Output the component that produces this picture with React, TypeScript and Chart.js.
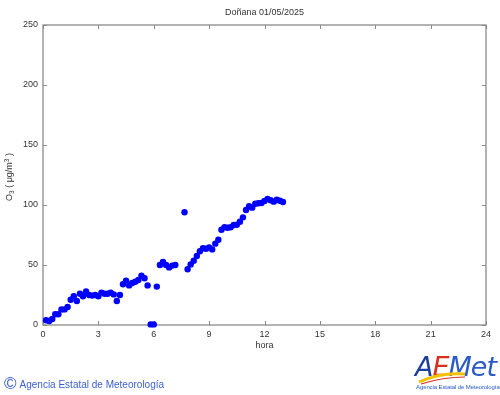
import React, { useEffect, useRef } from "react";
import { Chart, registerables } from "chart.js";

Chart.register(...registerables);

const TITLE = "Doñana 01/05/2025";
const X_TITLE = "hora";
const X_TICKS = [0, 3, 6, 9, 12, 15, 18, 21, 24];
const Y_TICKS = [0, 50, 100, 150, 200, 250];

const TIMES = [
  "00:10", "00:20", "00:30", "00:40", "00:50", "01:00",
  "01:10", "01:20", "01:30", "01:40", "01:50", "02:00",
  "02:10", "02:20", "02:30", "02:40", "02:50", "03:00",
  "03:10", "03:20", "03:30", "03:40", "03:50", "04:00",
  "04:10", "04:20", "04:30", "04:40", "04:50", "05:00",
  "05:10", "05:20", "05:30", "05:40", "05:50", "06:00",
  "06:10", "06:20", "06:30", "06:40", "06:50", "07:00",
  "07:10", "07:20", "07:30", "07:40", "07:50", "08:00",
  "08:10", "08:20", "08:30", "08:40", "08:50", "09:00",
  "09:10", "09:20", "09:30", "09:40", "09:50", "10:00",
  "10:10", "10:20", "10:30", "10:40", "10:50", "11:00",
  "11:10", "11:20", "11:30", "11:40", "11:50", "12:00",
  "12:10", "12:20", "12:30", "12:40", "12:50", "13:00",
];

const O3: (number | null)[] = [
  4, 3.3, 5, 9, 9, 13,
  13, 15, 21, 24, 20, 26,
  24, 28, 25, 24.5, 25, 24,
  27, 26, 26, 27, 25.5, 20,
  25, 34, 37, 33, 35, 36,
  37.5, 41, 39, 33, 0.5, 0.5,
  32, 50, 52.5, 50, 48, 49.5,
  50, null, null, 94, 46.4, 50.5,
  53.6, 57.5, 61.4, 64, 63.6, 64.7,
  63, 67.8, 71, 79.4, 81.4, 81,
  81.4, 83.3, 83.6, 86, 89.7, 95.8,
  98.9, 97.8, 101, 101.4, 101.7, 103.3,
  105, 104, 102.8, 104.4, 103.6, 102.5,
];

const FONT = "'Liberation Sans', Arial, Helvetica, sans-serif";
const AXIS_COLOR = "#8a8a8a";
const TEXT_COLOR = "#333333";

const toHours = (t: string) => {
  const [h, m] = t.split(":").map(Number);
  return h + m / 60;
};

const framePlugin = {
  id: "frame",
  beforeDatasetsDraw(chart: any) {
    const { ctx, chartArea } = chart;
    const { left, right, top, bottom } = chartArea;
    const xs = chart.scales.x;
    const ys = chart.scales.y;
    ctx.save();
    ctx.strokeStyle = AXIS_COLOR;
    ctx.lineWidth = 1.3;
    ctx.strokeRect(left, top, right - left, bottom - top);
    ctx.lineWidth = 1;
    const tl = 4;
    ctx.beginPath();
    xs.ticks.forEach((t: any) => {
      const px = Math.round(xs.getPixelForValue(t.value)) + 0.5;
      ctx.moveTo(px, bottom);
      ctx.lineTo(px, bottom - tl);
      ctx.moveTo(px, top);
      ctx.lineTo(px, top + tl);
    });
    ys.ticks.forEach((t: any) => {
      const py = Math.round(ys.getPixelForValue(t.value)) + 0.5;
      ctx.moveTo(left, py);
      ctx.lineTo(left + tl, py);
      ctx.moveTo(right, py);
      ctx.lineTo(right - tl, py);
    });
    ctx.stroke();
    ctx.restore();
  },
  afterDraw(chart: any) {
    const { ctx, chartArea } = chart;
    const { left, right, top, bottom } = chartArea;
    const cx = (left + right) / 2;
    ctx.save();
    ctx.fillStyle = TEXT_COLOR;
    ctx.textAlign = "center";
    ctx.textBaseline = "middle";
    ctx.font = `9px ${FONT}`;
    ctx.fillText(TITLE, cx, 12.5);
    ctx.fillText(X_TITLE, cx, bottom + 21);

    const parts = [
      { t: "O", s: 9, dy: 0 },
      { t: "3", s: 6.5, dy: 2.5 },
      { t: " ( μg/m", s: 9, dy: 0 },
      { t: "3", s: 6.5, dy: -3 },
      { t: " )", s: 9, dy: 0 },
    ];
    let total = 0;
    parts.forEach((p) => {
      ctx.font = `${p.s}px ${FONT}`;
      total += ctx.measureText(p.t).width;
    });
    ctx.translate(10, (top + bottom) / 2 + 2);
    ctx.rotate(-Math.PI / 2);
    ctx.textAlign = "left";
    let x = -total / 2;
    parts.forEach((p) => {
      ctx.font = `${p.s}px ${FONT}`;
      ctx.fillText(p.t, x, p.dy);
      x += ctx.measureText(p.t).width;
    });
    ctx.restore();
  },
};

export default function App() {
  const ref = useRef<HTMLCanvasElement | null>(null);

  useEffect(() => {
    if (!ref.current) return;
    const points = TIMES.map((t, i) => ({ x: toHours(t), y: O3[i] }));
    const chart = new Chart(ref.current, {
      type: "scatter",
      data: {
        datasets: [
          {
            data: points as any,
            backgroundColor: "#0000ff",
            borderColor: "#0000ff",
            borderWidth: 0,
            pointRadius: 3.2,
            pointHoverRadius: 3.2,
            clip: false as any,
          },
        ],
      },
      options: {
        animation: false,
        responsive: false,
        maintainAspectRatio: false,
        events: [],
        layout: { padding: { left: 0, right: 14, top: 25, bottom: 0 } },
        plugins: {
          legend: { display: false },
          tooltip: { enabled: false },
          title: { display: false },
        },
        scales: {
          x: {
            type: "linear",
            min: X_TICKS[0],
            max: X_TICKS[X_TICKS.length - 1],
            afterBuildTicks: (scale: any) => {
              scale.ticks = X_TICKS.map((v) => ({ value: v }));
            },
            afterFit: (scale: any) => {
              scale.height = 70;
            },
            grid: { display: false, drawTicks: false },
            border: { display: false },
            ticks: {
              autoSkip: false,
              maxRotation: 0,
              padding: 4,
              color: TEXT_COLOR,
              font: { family: FONT, size: 9 },
            },
          },
          y: {
            type: "linear",
            min: Y_TICKS[0],
            max: Y_TICKS[Y_TICKS.length - 1],
            afterBuildTicks: (scale: any) => {
              scale.ticks = Y_TICKS.map((v) => ({ value: v }));
            },
            afterFit: (scale: any) => {
              scale.width = 43;
            },
            grid: { display: false, drawTicks: false },
            border: { display: false },
            ticks: {
              autoSkip: false,
              padding: 5,
              color: TEXT_COLOR,
              font: { family: FONT, size: 9 },
            },
          },
        },
      },
      plugins: [framePlugin],
    });
    return () => chart.destroy();
  }, []);

  return (
    <div
      style={{
        position: "absolute",
        left: 0,
        top: 0,
        width: 500,
        height: 395,
        background: "#ffffff",
        overflow: "hidden",
      }}
    >
      <canvas ref={ref} width={500} height={395} style={{ display: "block" }} />
      <div
        style={{
          position: "absolute",
          left: 4,
          top: 375,
          height: 18,
          display: "flex",
          alignItems: "center",
          color: "#3a5fd0",
          fontFamily: FONT,
          whiteSpace: "nowrap",
        }}
      >
        <span style={{ fontSize: 17, lineHeight: "18px", marginRight: 3 }}>©</span>
        <span style={{ fontSize: 10, letterSpacing: 0 }}>Agencia Estatal de Meteorología</span>
      </div>
      <div
        style={{
          position: "absolute",
          left: 413,
          top: 352,
          width: 85,
          height: 42,
          fontFamily: FONT,
        }}
      >
        <div
          style={{
            position: "absolute",
            left: 2,
            top: 0,
            fontSize: 27,
            lineHeight: "30px",
            fontStyle: "italic",
            fontFamily: "'DejaVu Sans', sans-serif",
            fontWeight: 200,
            letterSpacing: -1,
            whiteSpace: "nowrap",
          }}
        >
          <span style={{ color: "#1b3f9a" }}>A</span>
          <span style={{ color: "#d83020" }}>E</span>
          <span style={{ color: "#2a5bc8" }}>Met</span>
        </div>
        <svg width={85} height={42} style={{ position: "absolute", left: 0, top: 0 }}>
          <path d="M6 30 Q 28 20 52 22" stroke="#f2c200" strokeWidth={3} fill="none" />
          <path d="M8 32 Q 30 25 52 25" stroke="#d83020" strokeWidth={1.2} fill="none" />
        </svg>
        <div
          style={{
            position: "absolute",
            left: 3,
            top: 32,
            fontSize: 6,
            color: "#2a5bc8",
            whiteSpace: "nowrap",
            letterSpacing: -0.1,
          }}
        >
          Agencia Estatal de Meteorología
        </div>
      </div>
    </div>
  );
}
